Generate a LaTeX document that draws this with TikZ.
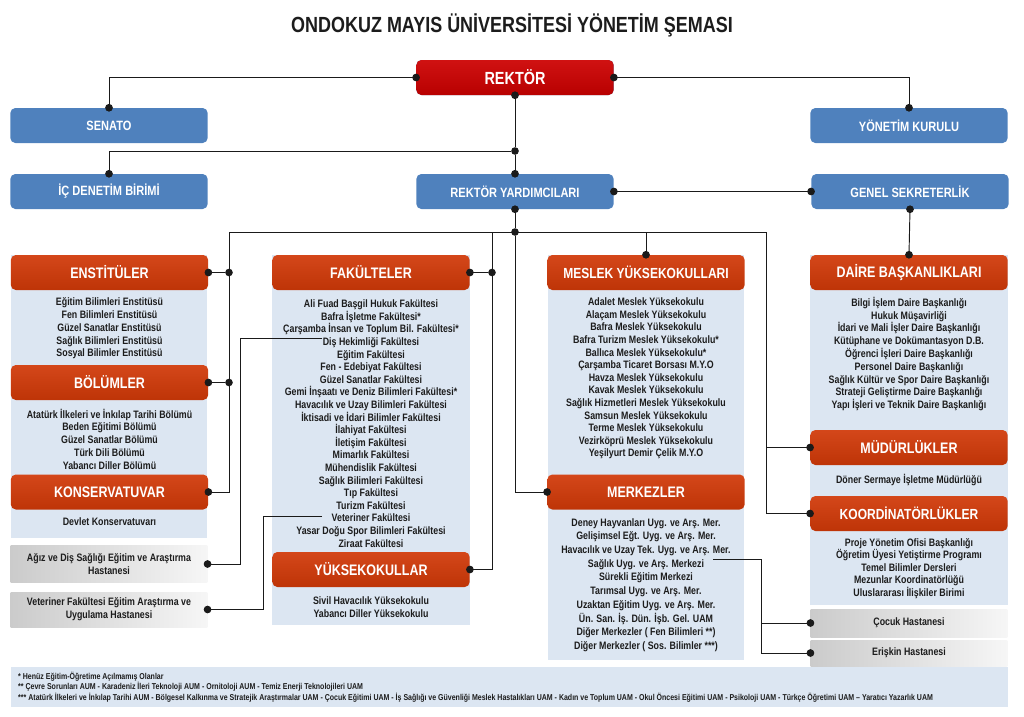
\documentclass[tikz,border=0pt]{standalone}
\usepackage{fontspec}
\setmainfont{Liberation Sans}[FakeStretch=0.82]
\usetikzlibrary{arrows.meta,calc}
\usepackage{xcolor}
\definecolor{rekttop}{HTML}{D01212}
\definecolor{rektbot}{HTML}{B80000}
\definecolor{boxblue}{HTML}{4F81BD}
\definecolor{hdrtop}{HTML}{D4471A}
\definecolor{hdrbot}{HTML}{BE3407}
\definecolor{panelbg}{HTML}{DCE6F2}
\definecolor{hospL}{HTML}{CBCBCB}
\definecolor{hospR}{HTML}{F6F6F6}
\definecolor{linec}{HTML}{1A1A1A}
\definecolor{txtc}{HTML}{1C1C1C}

\begin{document}
\begin{tikzpicture}[x=0.3mm, y=-0.3mm,
  topbox/.style={rectangle, rounded corners=0.15cm, fill=boxblue, text=white, minimum width=5.92cm, minimum height=1.05cm, font=\fontsize{11.5}{13}\selectfont\bfseries},
  hdr/.style={rectangle, rounded corners=0.15cm, top color=hdrtop, bottom color=hdrbot, text=white, minimum width=5.92cm, minimum height=1.05cm, font=\fontsize{13}{15}\selectfont\bfseries},
  list/.style={align=center, inner sep=0pt, text=txtc, font=\fontsize{9.2}{10.9}\selectfont\bfseries},
  hosp/.style={rectangle, left color=hospL, right color=hospR, text=txtc, align=center, minimum width=5.9cm, font=\fontsize{9.2}{10.9}\selectfont\bfseries},
  conn/.style={draw=linec, line width=0.8pt},
  dd/.style={conn, {Circle[length=6.5pt]}-{Circle[length=6.5pt]}, shorten <=-3.25pt, shorten >=-3.25pt},
  sd/.style={conn, {Circle[length=6.5pt]}-, shorten <=-3.25pt},
  ed/.style={conn, -{Circle[length=6.5pt]}, shorten >=-3.25pt},
  jdot/.style={circle, fill=linec, inner sep=0pt, minimum size=6.5pt}
]
  \useasboundingbox (0,0) rectangle (1024,717);

  % title
  \node[text=txtc, font=\fontsize{18.7}{20}\selectfont\bfseries] (title) at (512,25) {ONDOKUZ MAYIS ÜNİVERSİTESİ YÖNETİM ŞEMASI};

  % top level
  \node[topbox, top color=rekttop, bottom color=rektbot, font=\fontsize{15}{17}\selectfont\bfseries] (rektor) at (515,77.5) {REKTÖR};
  \node[topbox] (senato) at (109,125.5) {SENATO};
  \node[topbox] (ykurul) at (909,125.5) {YÖNETİM KURULU};
  \node[topbox] (icden) at (109,191.5) {İÇ DENETİM BİRİMİ};
  \node[topbox] (ryard) at (515,191.5) {REKTÖR YARDIMCILARI};
  \node[topbox] (gsek) at (910,191.5) {GENEL SEKRETERLİK};

  % panels
  \fill[panelbg] (11,255) rectangle (207,538);
  \fill[panelbg] (272,255) rectangle (470,625);
  \fill[panelbg] (548,255) rectangle (744,660);
  \fill[panelbg] (810,255) rectangle (1008,605);
  \fill[panelbg] (11,667) rectangle (1008,707);

  % left column
  \node[hdr] (enst) at (109.5,272.5) {ENSTİTÜLER};
  \node[list] (enstlist) at (109.5,328.5) {Eğitim Bilimleri Enstitüsü\\Fen Bilimleri Enstitüsü\\Güzel Sanatlar Enstitüsü\\Sağlık Bilimleri Enstitüsü\\Sosyal Bilimler Enstitüsü};
  \node[hdr] (bolum) at (109.5,382.5) {BÖLÜMLER};
  \node[list] (bolumlist) at (109.5,439) {Atatürk İlkeleri ve İnkılap Tarihi Bölümü\\Beden Eğitimi Bölümü\\Güzel Sanatlar Bölümü\\Türk Dili Bölümü\\Yabancı Diller Bölümü};
  \node[hdr] (kons) at (109.5,492) {KONSERVATUVAR};
  \node[list] (konslist) at (109.5,522) {Devlet Konservatuvarı};
  \node[hosp, minimum height=1.1cm] (agiz) at (109,564) {Ağız ve Diş Sağlığı Eğitim ve Araştırma\\Hastanesi};
  \node[hosp, minimum height=1.05cm] (vethos) at (109,609.5) {Veteriner Fakültesi Eğitim Araştırma ve\\Uygulama Hastanesi};

  % faculties
  \node[hdr] (fak) at (371,272.5) {FAKÜLTELER};
  \node[list, font=\fontsize{9.2}{10.75}\selectfont\bfseries] (faklist) at (371,423.5) {Ali Fuad Başgil Hukuk Fakültesi\\Bafra İşletme Fakültesi*\\Çarşamba İnsan ve Toplum Bil. Fakültesi*\\Diş Hekimliği Fakültesi\\Eğitim Fakültesi\\Fen - Edebiyat Fakültesi\\Güzel Sanatlar Fakültesi\\Gemi İnşaatı ve Deniz Bilimleri Fakültesi*\\Havacılık ve Uzay Bilimleri Fakültesi\\İktisadi ve İdari Bilimler Fakültesi\\İlahiyat Fakültesi\\İletişim Fakültesi\\Mimarlık Fakültesi\\Mühendislik Fakültesi\\Sağlık Bilimleri Fakültesi\\Tıp Fakültesi\\Turizm Fakültesi\\Veteriner Fakültesi\\Yasar Doğu Spor Bilimleri Fakültesi\\Ziraat Fakültesi};
  \node[hdr] (yuksek) at (371,569.5) {YÜKSEKOKULLAR};
  \node[list] (yukseklist) at (371,607.5) {Sivil Havacılık Yüksekokulu\\Yabancı Diller Yüksekokulu};

  % vocational schools and centres
  \node[hdr, font=\fontsize{12.5}{15}\selectfont\bfseries] (myo) at (646,272.5) {MESLEK YÜKSEKOKULLARI};
  \node[list, font=\fontsize{9.2}{10.75}\selectfont\bfseries] (myolist) at (646,378.5) {Adalet Meslek Yüksekokulu\\Alaçam Meslek Yüksekokulu\\Bafra Meslek Yüksekokulu\\Bafra Turizm Meslek Yüksekokulu*\\Ballıca Meslek Yüksekokulu*\\Çarşamba Ticaret Borsası M.Y.O\\Havza Meslek Yüksekokulu\\Kavak Meslek Yüksekokulu\\Sağlık Hizmetleri Meslek Yüksekokulu\\Samsun Meslek Yüksekokulu\\Terme Meslek Yüksekokulu\\Vezirköprü Meslek Yüksekokulu\\Yeşilyurt Demir Çelik M.Y.O};
  \node[hdr] (merk) at (646,492) {MERKEZLER};
  \node[list, font=\fontsize{9.2}{11.7}\selectfont\bfseries] (merklist) at (646,585) {Deney Hayvanları Uyg. ve Arş. Mer.\\Gelişimsel Eğt. Uyg. ve Arş. Mer.\\Havacılık ve Uzay Tek. Uyg. ve Arş. Mer.\\Sağlık Uyg. ve Arş. Merkezi\\Sürekli Eğitim Merkezi\\Tarımsal Uyg. ve Arş. Mer.\\Uzaktan Eğitim Uyg. ve Arş. Mer.\\Ün. San. İş. Dün. İşb. Gel. UAM\\Diğer Merkezler ( Fen Bilimleri **)\\Diğer Merkezler ( Sos. Bilimler ***)};

  % administration
  \node[hdr] (daire) at (909,272.5) {DAİRE BAŞKANLIKLARI};
  \node[list] (dairelist) at (909,354) {Bilgi İşlem Daire Başkanlığı\\Hukuk Müşavirliği\\İdari ve Mali İşler Daire Başkanlığı\\Kütüphane ve Dokümantasyon D.B.\\Öğrenci İşleri Daire Başkanlığı\\Personel Daire Başkanlığı\\Sağlık Kültür ve Spor Daire Başkanlığı\\Strateji Geliştirme Daire Başkanlığı\\Yapı İşleri ve Teknik Daire Başkanlığı};
  \node[hdr] (mud) at (909,447.5) {MÜDÜRLÜKLER};
  \node[list] (mudlist) at (909,480) {Döner Sermaye İşletme Müdürlüğü};
  \node[hdr, font=\fontsize{12.5}{15}\selectfont\bfseries] (koord) at (909,513.5) {KOORDİNATÖRLÜKLER};
  \node[list, font=\fontsize{9.2}{10.6}\selectfont\bfseries] (koordlist) at (909,568.5) {Proje Yönetim Ofisi Başkanlığı\\Öğretim Üyesi Yetiştirme Programı\\Temel Bilimler Dersleri\\Mezunlar Koordinatörlüğü\\Uluslararası İlişkiler Birimi};
  \node[hosp, minimum height=0.84cm] (cocuk) at (909,623) {Çocuk Hastanesi};
  \node[hosp, minimum height=0.78cm] (erisk) at (909,653) {Erişkin Hastanesi};

  % footnotes
  \node[list, anchor=west, align=left, font=\fontsize{7.3}{9}\selectfont\bfseries] (notes) at (18,687) {* Henüz Eğitim-Öğretime Açılmamış Olanlar\\** Çevre Sorunları AUM - Karadeniz İleri Teknoloji AUM - Ornitoloji AUM - Temiz Enerji Teknolojileri UAM\\*** Atatürk İlkeleri ve İnkılap Tarihi AUM - Bölgesel Kalkınma ve Stratejik Araştırmalar UAM - Çocuk Eğitimi UAM - İş Sağlığı ve Güvenliği Meslek Hastalıkları UAM - Kadın ve Toplum UAM - Okul Öncesi Eğitimi UAM - Psikoloji UAM - Türkçe Öğretimi UAM – Yaratıcı Yazarlık UAM};

  % top connectors
  \draw[dd] (rektor.west) -| (senato.north);
  \draw[dd] (rektor.east) -| (ykurul.north);
  \node[jdot] (jr) at (515,151) {};
  \draw[sd] (rektor.south) -- (jr);
  \draw[ed] (jr) -- (ryard.north);
  \draw[ed] (jr) -| (icden.north);
  \draw[dd] (ryard.east) -- (gsek.west);
  \draw[dd] (gsek.south) -- (daire.north);

  % bus below the vice rectors
  \node[jdot] (jb) at (515,232) {};
  \draw[sd] (ryard.south) -- (jb);
  \coordinate (busL) at (229,232);
  \coordinate (busF) at (492,232);
  \coordinate (busR) at (766,232);
  \draw[conn] (busL) -- (busR);
  \draw[ed] (busL) |- (kons.east);
  \node[jdot] (jenst) at (busL |- enst.east) {};
  \node[jdot] (jbolum) at (busL |- bolum.east) {};
  \draw[sd] (enst.east) -- (jenst);
  \draw[sd] (bolum.east) -- (jbolum);
  \draw[ed] (busF) |- (yuksek.east);
  \node[jdot] (jfak) at (busF |- fak.east) {};
  \draw[sd] (fak.east) -- (jfak);
  \draw[ed] (jb) |- (merk.west);
  \draw[ed] (myo.north |- busR) -- (myo.north);
  \draw[ed] (busR) |- (koord.west);
  \draw[ed] (busR |- mud.west) -- (mud.west);

  % hospitals
  \coordinate (disH) at (322,338);
  \coordinate (vetH) at (322,516);
  \coordinate (sagH) at (713,559);
  \draw[ed] (disH) -- (240,338) |- (agiz.east);
  \draw[ed] (vetH) -- (263,516) |- (vethos.east);
  \coordinate (hosV) at (761,559);
  \draw[ed] (sagH) -- (hosV) |- (erisk.west);
  \draw[ed] (hosV |- cocuk.west) -- (cocuk.west);
\end{tikzpicture}
\end{document}
